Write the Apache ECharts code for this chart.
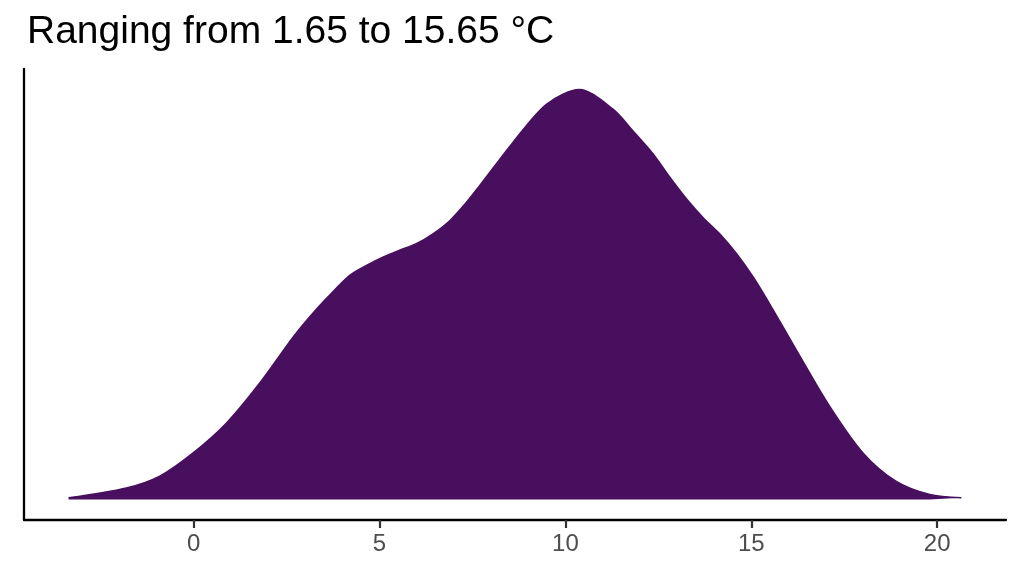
<!DOCTYPE html>
<html>
<head>
<meta charset="utf-8">
<script src="https://cdn.jsdelivr.net/npm/echarts@6/dist/echarts.min.js"></script>
<style>
html,body{margin:0;padding:0;background:#fff;}
#chart{width:1024px;height:576px;}
</style>
</head>
<body>
<div id="chart"></div>
<script>
// Temperature values (°C) along the density curve
const temps = [-3.36, -1.81, -0.91, -0.02, 0.88, 1.78, 2.67, 3.12, 3.57, 4.20, 4.65, 5.09, 5.54, 5.99, 6.44, 6.89, 7.34, 7.69, 8.59, 9.49, 10.38, 11.28, 11.82, 12.36, 12.81, 13.26, 13.70, 14.15, 14.60, 15.05, 15.41, 16.21, 17.11, 18.01, 18.90, 19.80, 20.65];
// Density (scaled so that the peak is 1)
const density = [0.004, 0.028, 0.057, 0.113, 0.186, 0.284, 0.395, 0.445, 0.490, 0.547, 0.571, 0.591, 0.608, 0.624, 0.648, 0.680, 0.725, 0.765, 0.871, 0.964, 1.0, 0.952, 0.899, 0.843, 0.786, 0.733, 0.688, 0.648, 0.600, 0.543, 0.490, 0.365, 0.227, 0.113, 0.044, 0.012, 0.004];
const xTicks = [0, 5, 10, 15, 20];
const titleText = 'Ranging from 1.65 to 15.65 °C';

const X_MIN = -4.56, X_MAX = 21.85;
const G_LEFT = 24, G_RIGHT = 18, G_TOP = 69, G_BOTTOM = 56;
const plotW = 1024 - G_LEFT - G_RIGHT;
const tLo = xTicks[0], tHi = xTicks[xTicks.length - 1];
// helper grid that spans exactly the tick range, so ticks fall on the same positions
const tickGridLeft = G_LEFT + (tLo - X_MIN) / (X_MAX - X_MIN) * plotW;
const tickGridRight = G_RIGHT + (X_MAX - tHi) / (X_MAX - X_MIN) * plotW;

const chart = echarts.init(document.getElementById('chart'));
const points = temps.map((t, i) => [t, density[i]]);
chart.setOption({
  animation: false,
  backgroundColor: '#ffffff',
  title: {
    text: titleText,
    left: 22,
    top: 8,
    textStyle: {fontFamily: 'Liberation Sans', fontSize: 39, fontWeight: 'normal', color: '#000'}
  },
  grid: [
    {left: G_LEFT, right: G_RIGHT, top: G_TOP, bottom: G_BOTTOM},
    {left: tickGridLeft, right: tickGridRight, top: G_TOP, bottom: G_BOTTOM}
  ],
  xAxis: [{
    type: 'value',
    gridIndex: 0,
    min: X_MIN,
    max: X_MAX,
    axisLine: {show: true, onZero: false, lineStyle: {color: '#000', width: 2.3}},
    axisTick: {show: false},
    axisLabel: {show: true, customValues: xTicks, margin: 12, fontFamily: 'Liberation Sans', fontSize: 24, color: '#4d4d4d'},
    splitLine: {show: false}
  }, {
    type: 'value',
    gridIndex: 1,
    position: 'bottom',
    min: tLo,
    max: tHi,
    interval: 5,
    axisLine: {show: false, onZero: false},
    axisTick: {show: true, inside: false, length: 8, lineStyle: {color: '#333333', width: 2.2}},
    axisLabel: {show: false},
    splitLine: {show: false}
  }],
  yAxis: [{
    type: 'value',
    gridIndex: 0,
    min: -0.05,
    max: 1.05,
    axisLine: {show: true, onZero: false, lineStyle: {color: '#000', width: 2.3}},
    axisTick: {show: false},
    axisLabel: {show: false},
    splitLine: {show: false}
  }, {
    type: 'value',
    gridIndex: 1,
    show: false,
    min: 0,
    max: 1
  }],
  series: [{
    type: 'line',
    xAxisIndex: 0,
    yAxisIndex: 0,
    data: points,
    smooth: 0.3,
    symbol: 'none',
    lineStyle: {color: '#480F5E', width: 1.5},
    areaStyle: {color: '#480F5E', opacity: 1}
  }]
});
</script>
</body>
</html>
